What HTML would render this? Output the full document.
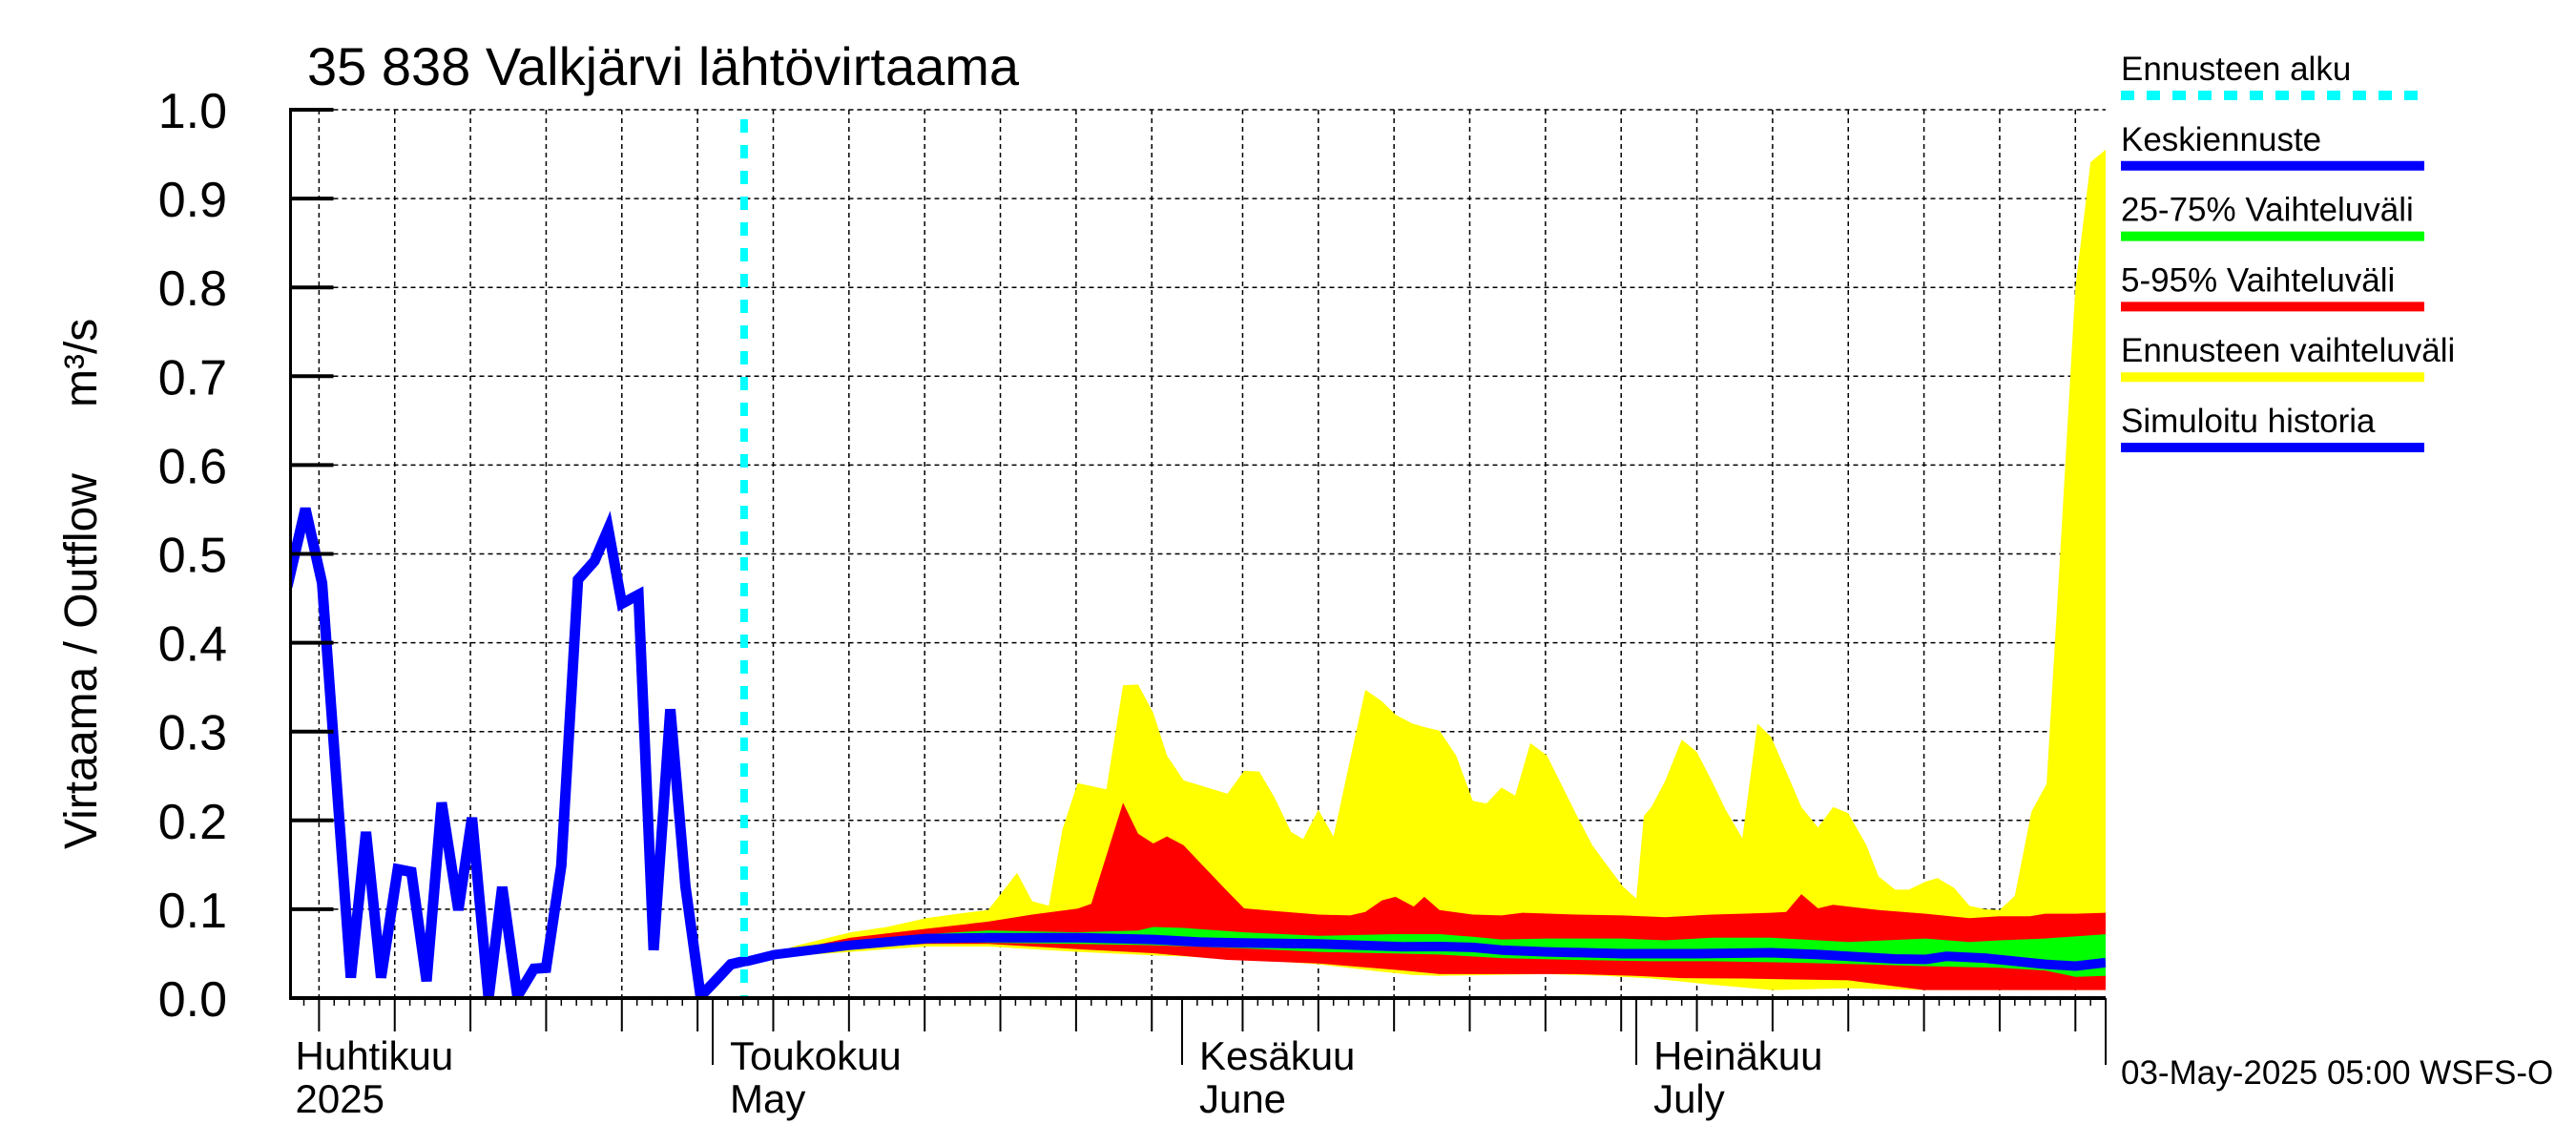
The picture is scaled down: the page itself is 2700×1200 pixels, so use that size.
<!DOCTYPE html>
<html><head><meta charset="utf-8"><style>
html,body{margin:0;padding:0;background:#fff;}
svg{display:block;font-family:"Liberation Sans",sans-serif;}
</style></head><body>
<svg id="chart" width="2700" height="1200" viewBox="0 0 2700 1200" xmlns="http://www.w3.org/2000/svg">
<rect x="0" y="0" width="2700" height="1200" fill="#fff"/>
<g id="grid"></g>
<g id="bands"></g>
<g id="lines"></g>
<g id="axes"></g>
<text x="322" y="89" font-size="56">35 838 Valkjärvi lähtövirtaama</text>
<text transform="translate(101,890) rotate(-90)" font-size="48">Virtaama / Outflow</text>
<text transform="translate(101,427) rotate(-90)" font-size="48">m³/s</text>
<g id="legend"></g>
<text x="2223" y="1136" font-size="35">03-May-2025 05:00 WSFS-O</text>
</svg>
<script>
// ---- data (day offsets relative to 1 May 2025, values m3/s) ----
const yTicks = [0.0,0.1,0.2,0.3,0.4,0.5,0.6,0.7,0.8,0.9,1.0];
const yTickLabels = ["0.0","0.1","0.2","0.3","0.4","0.5","0.6","0.7","0.8","0.9","1.0"];
const monthDays = [-30, 0, 31, 61, 92];
const monthLabels1 = ["Huhtikuu","Toukokuu","Kesäkuu","Heinäkuu"];
const monthLabels2 = ["2025","May","June","July"];
const forecastStart = 2.2;

const histDays = [-28.1,-26.9,-25.8,-23.9,-22.9,-21.9,-20.8,-19.9,-18.9,-17.9,-16.8,-15.9,-14.8,-13.9,-12.9,-11.8,-11.0,-10.0,-8.9,-7.8,-6.9,-6.0,-4.9,-3.9,-2.8,-1.8,-0.8,0.1,1.2,2.2];
const histVals = [.463,.551,.467,.023,.187,.023,.145,.142,.019,.220,.099,.203,0,.125,.002,.033,.034,.149,.471,.492,.528,.444,.454,.054,.325,.126,.002,.018,.038,.042];

const medDays = [2.2,4.1,9.1,14.1,18.2,24.1,29.1,32.1,35.1,40,45.6,48,50.2,52.1,55.1,60.1,65,69.9,73,75,78.1,80.1,81.5,84,86,88,90,92];
const medVals = [.041,.049,.0595,.067,.068,.068,.066,.063,.062,.061,.0577,.058,.057,.054,.052,.050,.050,.051,.049,.047,.044,.0435,.047,.045,.0415,.038,.036,.040];

const yelTopDays = [2.2,4.1,5.5,9.1,11.5,14.1,16.2,18.2,20.1,21.1,22.2,23.1,24.1,26,27.1,28.1,29.1,30,31.1,32.1,34,35.1,36.1,37.1,38.2,39,40,41,43.1,44.2,45.1,46.2,47,48,49.1,50.2,51.1,52.1,53,54,55.1,57,58.1,59,60.1,61,61.5,62,62.9,64,65,66,66.9,68,69,69.9,70.9,71.9,73,74,75,76.2,77,78.1,79,80.1,80.9,82,83,84,85,86,87.1,88.1,89,90,91,92.06];
const yelTopVals = [.041,.051,.059,.074,.080,.090,.095,.099,.141,.109,.104,.19,.242,.235,.352,.353,.321,.273,.245,.24,.23,.256,.255,.226,.187,.179,.212,.182,.347,.334,.319,.309,.305,.301,.273,.222,.219,.237,.228,.287,.273,.208,.172,.151,.126,.112,.205,.215,.244,.291,.277,.244,.212,.18,.309,.294,.255,.215,.192,.215,.208,.172,.137,.122,.122,.131,.135,.124,.104,.10,.099,.115,.21,.241,.501,.80,.941,.956];
const yelBotDays = [2.2,4.1,9.1,14.1,18.2,24.1,29.1,34,40,44,46.2,48,55,59,62,66,70,75,80,92.06];
const yelBotVals = [.041,.046,.052,.058,.058,.052,.048,.045,.038,.030,.026,.025,.027,.025,.022,.015,.009,.011,.009,.009];

const redTopDays = [2.2,4.1,9.1,14.1,18.2,21.1,24.1,25,27.1,28.1,29.1,30,31.1,32.1,34,35.1,37.1,40,42.1,43.1,44.2,45.1,46.3,47,48,50.2,52.1,53.5,57,60.1,62.9,66,68,69.9,70.9,71.9,73,74,75,77,80.1,83,85,87,88,90,92.06];
const redTopVals = [.041,.050,.068,.078,.086,.094,.1007,.106,.22,.185,.174,.182,.172,.154,.120,.101,.098,.094,.093,.097,.11,.114,.103,.114,.099,.094,.093,.096,.094,.093,.091,.094,.095,.096,.097,.117,.101,.105,.103,.099,.095,.09,.092,.092,.095,.095,.096];
const redBotDays = [2.2,4.1,9.1,14.1,18.2,24.1,29.1,34,40,45.6,48,52.1,57,61,64,68,71,75,80,92.06];
const redBotVals = [.041,.046,.056,.061,.061,.055,.0505,.043,.039,.031,.027,.027,.027,.025,.0225,.022,.021,.020,.009,.009];

const grnTopDays = [2.2,9.1,14.1,18.2,24.1,28.1,29.1,31.1,35.1,40,45.1,48,50.2,52.1,55.1,60.1,62.9,66,69.9,73,75,80.1,83,85,88,92.06];
const grnTopVals = [.041,.062,.072,.076,.074,.076,.080,.079,.074,.070,.072,.072,.069,.066,.067,.067,.065,.068,.068,.065,.063,.067,.063,.065,.067,.072];
const grnBotDays = [2.2,9.1,14.1,24.1,29.1,35.1,40,45.6,48,52.1,57,62,66,71,76,80,85,88,90,92.06];
const grnBotVals = [.041,.057,.063,.061,.0595,.056,.052,.050,.049,.045,.043,.0415,.0415,.040,.038,.036,.034,.031,.024,.025];

// ---- scales ----
const X0 = 747, PXD = 15.87, PL = 304.5, PR = 2207, Y0 = 1046, PY = 931;
function xs(d){ return X0 + d*PXD; }
function ys(v){ return Y0 - v*PY; }
const NS = "http://www.w3.org/2000/svg";
function mk(tag, attrs, parent){ const e=document.createElementNS(NS,tag); for(const k in attrs) e.setAttribute(k,attrs[k]); parent.appendChild(e); return e; }
const grid=document.getElementById('grid'), bands=document.getElementById('bands'), lines=document.getElementById('lines'), axes=document.getElementById('axes'), legend=document.getElementById('legend');

// clip
const defs = mk('defs',{},document.getElementById('chart'));
const cp = mk('clipPath',{id:'plotclip'},defs);
mk('rect',{x:PL,y:100,width:PR-PL,height:Y0-100},cp);

// horizontal grid
yTicks.forEach((v,i)=>{
  if(i>0){
    const g = mk('line',{x1:PL,x2:PR,y1:ys(v),y2:ys(v),stroke:'#000','stroke-width':1.5,'stroke-dasharray':'5,4'},grid);
    
    
  }
  const t = mk('line',{x1:PL,x2:PL+45,y1:ys(v),y2:ys(v),stroke:'#000','stroke-width':4},axes);
  
  
  const lb = mk('text',{x:238,y:ys(v)+19,'font-size':52,'text-anchor':'end'},axes);
  lb.textContent = yTickLabels[i];
  
  
});

// vertical grid every 5 days of month + day ticks
const mstart = [-30,0,31,61];
for(let m=0;m<4;m++){
  const len = (m<3? monthDays[m+1]-monthDays[m] : 31);
  for(let dom=1; dom<=len; dom++){
    const d = mstart[m] + dom - 1;
    const x = xs(d);
    if(x<PL-1 || x>PR+1) continue;
    let tl = 8;
    if(dom%5===0){
      tl = 35;
      const g = mk('line',{x1:x,x2:x,y1:115,y2:Y0,stroke:'#000','stroke-width':1.5,'stroke-dasharray':'5,4'},grid);
      
      
    }
    if(dom===1) tl = 70;
    const t = mk('line',{x1:x,x2:x,y1:Y0,y2:Y0+tl,stroke:'#000','stroke-width':dom===1||dom%5===0?2:1.5},axes);
    
    
  }
}
{ const t = mk('line',{x1:xs(92),x2:xs(92),y1:Y0,y2:Y0+70,stroke:'#000','stroke-width':2},axes);
  
   }

// month labels
monthLabels1.forEach((s,i)=>{
  let x = Math.max(xs(monthDays[i])+18, PL+5);
  const a = mk('text',{x:x,y:1121,'font-size':42},axes); a.textContent=s;
  
  
  const b = mk('text',{x:x,y:1166,'font-size':42},axes); b.textContent=monthLabels2[i];
  
  
});

function pts(ds,vs){ return ds.map((d,i)=>xs(d).toFixed(1)+','+ys(vs[i]).toFixed(1)); }
function band(td,tv,bd,bv,color,name){
  const p = pts(td,tv).concat(pts(bd,bv).reverse());
  const e = mk('polygon',{points:p.join(' '),fill:color,'clip-path':'url(#plotclip)'},bands);
  
  
}
band(yelTopDays,yelTopVals,yelBotDays,yelBotVals,'#ffff00','forecast-range-band');
band(redTopDays,redTopVals,redBotDays,redBotVals,'#ff0000','band-5-95');
band(grnTopDays,grnTopVals,grnBotDays,grnBotVals,'#00ff00','band-25-75');

const med = mk('polyline',{points:pts(medDays,medVals).join(' '),fill:'none',stroke:'#0000ff','stroke-width':10,'stroke-linejoin':'round','clip-path':'url(#plotclip)'},lines);


const hist = mk('polyline',{points:pts(histDays,histVals).join(' '),fill:'none',stroke:'#0000ff','stroke-width':11,'stroke-linejoin':'miter','clip-path':'url(#plotclip)'},lines);


const fs = mk('line',{x1:xs(forecastStart)-2,x2:xs(forecastStart)-2,y1:125,y2:Y0,stroke:'#00ffff','stroke-width':8,'stroke-dasharray':'14,13'},lines);



// axes lines
{ const a = mk('line',{x1:PL,x2:PL,y1:113,y2:Y0+2,stroke:'#000','stroke-width':3},axes);
  
  
  const b = mk('line',{x1:PL-1,x2:PR,y1:Y0,y2:Y0,stroke:'#000','stroke-width':4},axes);
  
   }

// legend
const legLabels = ["Ennusteen alku","Keskiennuste","25-75% Vaihteluväli","5-95% Vaihteluväli","Ennusteen vaihteluväli","Simuloitu historia"];
const legColors = ["#00ffff","#0000ff","#00ff00","#ff0000","#ffff00","#0000ff"];
legLabels.forEach((s,i)=>{
  const ly = 100 + i*73.8;
  const t = mk('text',{x:2223,y:ly-16,'font-size':35},legend); t.textContent=s;
  
  
  const l = mk('line',{x1:2223,x2:2541,y1:ly,y2:ly,stroke:legColors[i],'stroke-width':10},legend);
  if(i===0) l.setAttribute('stroke-dasharray','14,13');
  
  
});
</script>
</body></html>
